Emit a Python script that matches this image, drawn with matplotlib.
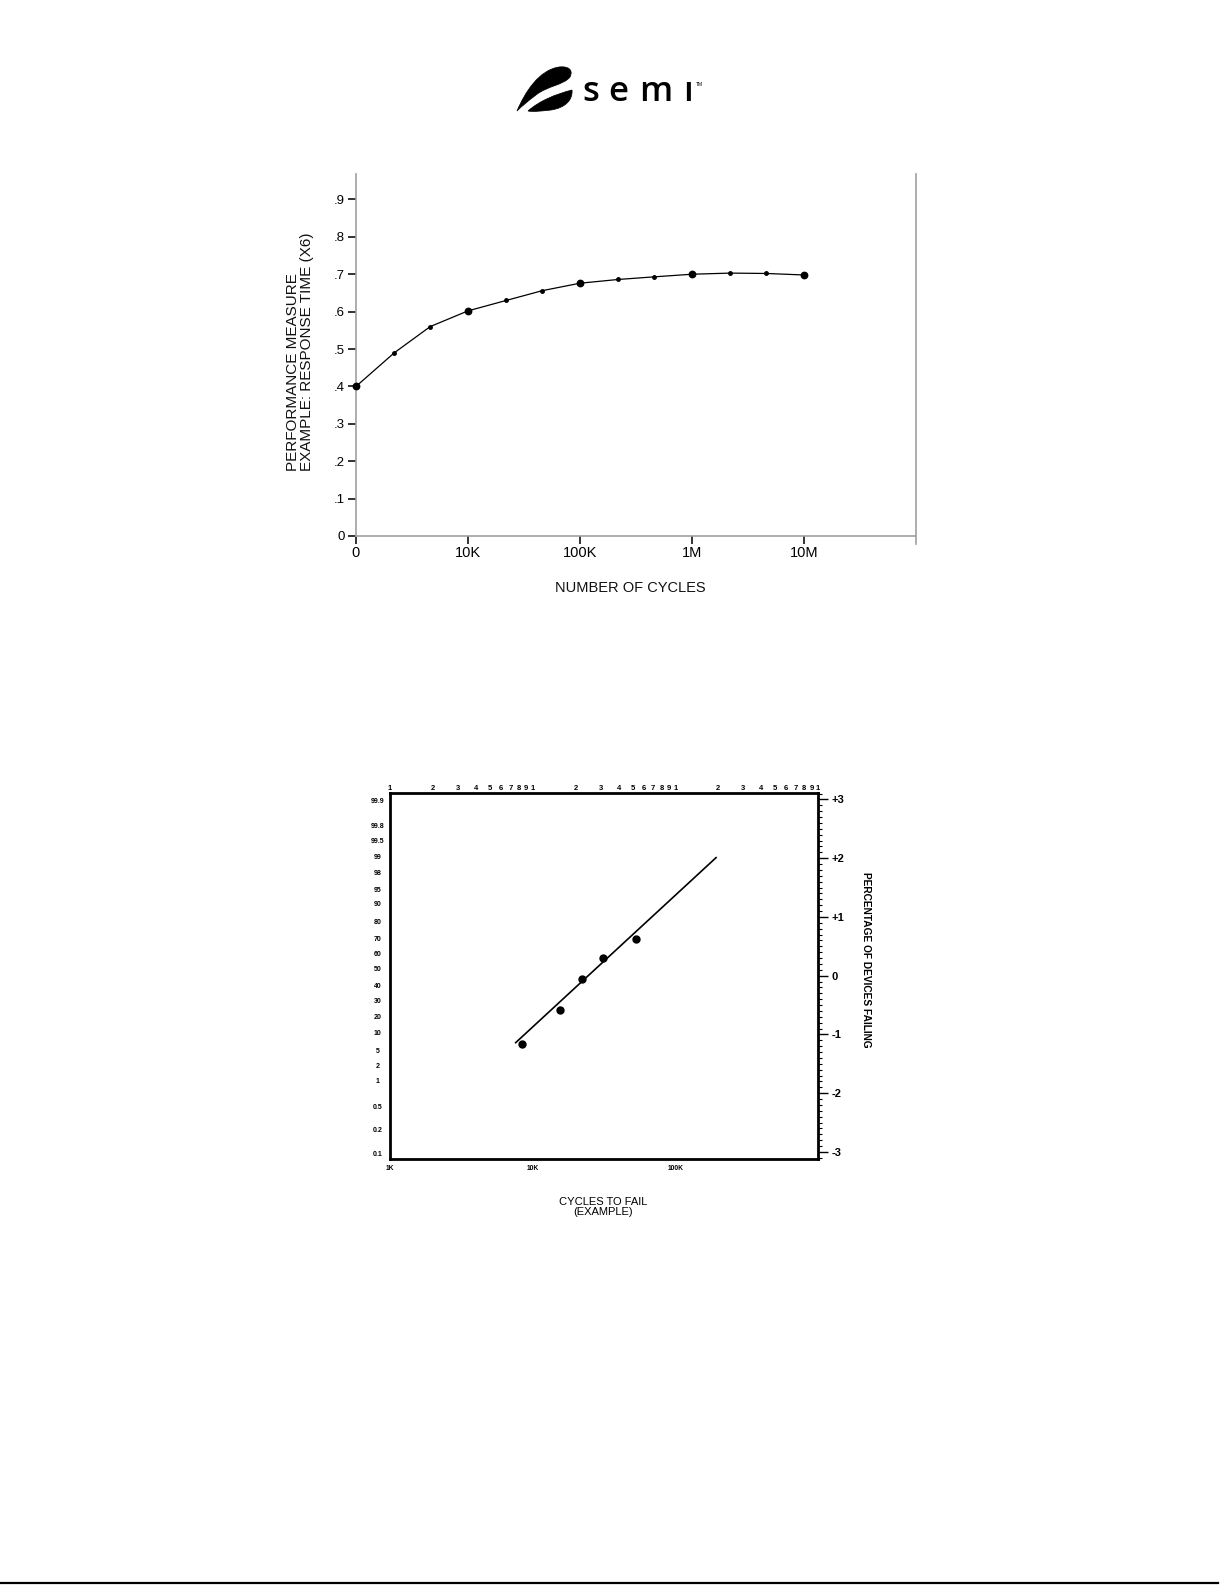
import matplotlib
matplotlib.use("Agg")
import matplotlib.pyplot as plt
import numpy as np
from matplotlib.path import Path
from matplotlib.patches import PathPatch
from matplotlib.lines import Line2D
from matplotlib.ticker import MultipleLocator, NullLocator

# ---------------- data: chart 1 (performance vs cycles) ----------------
cycles = [1e3, 2.2e3, 4.6e3, 1e4, 2.2e4, 4.6e4, 1e5, 2.2e5, 4.6e5, 1e6, 2.2e6, 4.6e6, 1e7]
response = [0.400, 0.490, 0.560, 0.602, 0.630, 0.656, 0.676, 0.686, 0.693, 0.700, 0.703, 0.702, 0.698]
x1_tick_vals = [1e3, 1e4, 1e5, 1e6, 1e7]
x1_tick_labels = ["0", "10K", "100K", "1M", "10M"]
y1_tick_vals = [0.0, 0.1, 0.2, 0.3, 0.4, 0.5, 0.6, 0.7, 0.8, 0.9]
y1_tick_labels = ["0", ".1", ".2", ".3", ".4", ".5", ".6", ".7", ".8", ".9"]

# ---------------- data: chart 2 (probability plot) ----------------
fail_cycles = [8.45e3, 15.5e3, 22.0e3, 31.3e3, 52.7e3]
fail_z = [-1.17, -0.59, -0.05, 0.30, 0.62]
fit_cycles = [7.6e3, 193e3]
fit_z = [-1.14, 2.01]
pct_labels = ["99.9", "99.8", "99.5", "99", "98", "95", "90", "80", "70", "60", "50",
              "40", "30", "20", "10", "5", "2", "1", "0.5", "0.2", "0.1"]
pct_tick_z = [2.98, 2.56, 2.30, 2.03, 1.75, 1.47, 1.23, 0.93, 0.64, 0.38, 0.13,
              -0.16, -0.43, -0.70, -0.96, -1.27, -1.52, -1.79, -2.22, -2.62, -3.03]
z_tick_vals = [3, 2, 1, 0, -1, -2, -3]
z_tick_labels = ["+3", "+2", "+1", "0", "-1", "-2", "-3"]
bottom_tick_vals = [1e3, 1e4, 1e5]
bottom_tick_labels = ["1K", "10K", "100K"]
top_digit_labels = ["1", "2", "3", "4", "5", "6", "7", "8", "9"]
top_decades = [1e3, 1e4, 1e5]

W, H = 1225, 1585
NARROW = ["Liberation Sans Narrow", "Liberation Sans", "DejaVu Sans"]
SANS = ["Liberation Sans", "DejaVu Sans"]
plt.rcParams["font.family"] = SANS

fig = plt.figure(figsize=(W / 100, H / 100), dpi=100)
fig.patch.set_facecolor("white")


def px_axes(l, t, r, b, **kw):
    return fig.add_axes([l / W, 1 - b / H, (r - l) / W, (b - t) / H], **kw)


# ======================= logo =======================
axl = px_axes(500, 30, 720, 130)
axl.set_xlim(500, 720)
axl.set_ylim(130, 30)
axl.axis("off")
M, C, CL = Path.MOVETO, Path.CURVE4, Path.CLOSEPOLY
main_v = [(517, 111), (525, 92), (539, 70), (559, 67),
          (567, 66), (574, 69), (570, 77),
          (564, 85), (547, 86), (536, 95),
          (528, 101), (522, 106), (517, 111), (517, 111)]
main_c = [M] + [C] * 12 + [CL]
axl.add_patch(PathPatch(Path(main_v, main_c), facecolor="black", edgecolor="black", lw=0.5))
low_v = [(528, 111), (539, 101), (556, 94), (572, 90),
         (573, 100), (565, 108), (551, 110),
         (542, 111), (534, 112), (528, 111), (528, 111)]
low_c = [M] + [C] * 9 + [CL]
axl.add_patch(PathPatch(Path(low_v, low_c), facecolor="black", edgecolor="black", lw=0.5))
LOGO_FONT = ["Open Sans", "DejaVu Sans"]
for ch, xc in zip(["s", "e", "m", "\u0131"], [591, 618, 656, 688]):
    axl.text(xc, 101, ch, ha="center", va="baseline", fontsize=25,
             fontweight="semibold", family=LOGO_FONT, color="black")
axl.text(696, 84, "TM", ha="left", va="center", fontsize=3.5, family=SANS, color="black")

# ======================= chart 1 =======================
ax1 = px_axes(356, 174, 916, 536)
ax1.set_xscale("log")
ax1.set_xlim(1e3, 1e8)
ax1.set_ylim(0, 0.968)
c = np.array(cycles)
r = np.array(response)
lc = np.log10(c)
major = np.isclose(lc, np.round(lc))
ax1.plot(c, r, color="black", lw=0.9, zorder=2)
ax1.plot(c[~major], r[~major], "o", ms=2.5, color="black", zorder=3, clip_on=False)
ax1.plot(c[major], r[major], "o", ms=4.6, color="black", zorder=3, clip_on=False)

ax1.set_xticks(x1_tick_vals, x1_tick_labels)
ax1.xaxis.set_minor_locator(NullLocator())
ax1.set_yticks(y1_tick_vals, y1_tick_labels)
for s in ["left", "bottom", "right"]:
    ax1.spines[s].set_color("#a0a0a0")
    ax1.spines[s].set_linewidth(1.2)
ax1.spines["top"].set_visible(False)
ax1.spines["right"].set_bounds(-0.022, 0.968)
ax1.tick_params(axis="both", direction="out", length=6, width=1.4, color="#333333")
ax1.tick_params(axis="y", labelsize=9.5, pad=2)
ax1.tick_params(axis="x", labelsize=10.5, pad=1.5)
for t in ax1.get_xticklabels():
    t.set_family(NARROW)
for t in ax1.get_yticklabels():
    t.set_family(SANS)

fig.text(300 / W, 1 - 352 / H, "PERFORMANCE MEASURE\nEXAMPLE: RESPONSE TIME (X6)",
         rotation=90, ha="center", va="center", multialignment="left",
         linespacing=1.0, fontsize=11, family=NARROW, color="#111111")
fig.text(630 / W, 1 - 588 / H, "NUMBER OF CYCLES", ha="center", va="center",
         fontsize=10.5, family=NARROW, color="#111111")

# ======================= chart 2 =======================
ax2 = px_axes(390, 793, 818, 1159)
ax2.set_xscale("log")
ax2.set_xlim(1e3, 1e6)
ax2.set_ylim(-3.12, 3.11)
ax2.plot(fit_cycles, fit_z, color="black", lw=1.2, zorder=2)
ax2.plot(fail_cycles, fail_z, "o", ms=5, color="black", zorder=3)
for s in ax2.spines.values():
    s.set_color("black")
    s.set_linewidth(2.0)

ax2.set_yticks(pct_tick_z, pct_labels)
ax2.yaxis.set_minor_locator(NullLocator())
ax2.tick_params(axis="y", length=0, labelsize=5, pad=9)
for t in ax2.get_yticklabels():
    t.set_ha("center")
    t.set_fontweight("bold")

ax2.set_xticks(bottom_tick_vals, bottom_tick_labels)
ax2.xaxis.set_minor_locator(NullLocator())
ax2.tick_params(axis="x", length=0, labelsize=4.8, pad=4)
for t in ax2.get_xticklabels():
    t.set_fontweight("bold")

# top log-cycle digits
axt = ax2.twiny()
axt.set_xscale("log")
axt.set_xlim(ax2.get_xlim())
top_vals = [int(d) * dec for dec in top_decades for d in top_digit_labels] + [top_decades[-1] * 10]
top_labs = [d for dec in top_decades for d in top_digit_labels] + ["1"]
axt.set_xticks(top_vals, top_labs)
axt.xaxis.set_minor_locator(NullLocator())
axt.tick_params(axis="x", length=0, labelsize=5.5, pad=1)
for t in axt.get_xticklabels():
    t.set_fontweight("bold")
for s in axt.spines.values():
    s.set_visible(False)

# right z-scale
axr = ax2.twinx()
axr.set_ylim(ax2.get_ylim())
axr.set_yticks(z_tick_vals, z_tick_labels)
axr.yaxis.set_minor_locator(MultipleLocator(0.1))
axr.tick_params(axis="y", which="major", direction="out", length=7, width=1.0,
                labelsize=8, pad=3)
axr.tick_params(axis="y", which="minor", direction="out", length=3, width=0.8)
for t in axr.get_yticklabels():
    t.set_fontweight("bold")
for s in axr.spines.values():
    s.set_visible(False)

fig.text(866 / W, 1 - 960 / H, "PERCENTAGE OF DEVICES FAILING", rotation=270,
         ha="center", va="center", fontsize=7.3, fontweight="bold", family=NARROW)
fig.text(603 / W, 1 - 1207 / H, "CYCLES TO FAIL\n(EXAMPLE)", ha="center", va="center",
         linespacing=0.9, fontsize=8, family=NARROW)

# footer rule
fig.add_artist(Line2D([0, 1218 / W], [1 - 1583 / H, 1 - 1583 / H],
                      transform=fig.transFigure, color="black", lw=1.6))

fig.savefig("out.png", dpi=100, facecolor="white")
